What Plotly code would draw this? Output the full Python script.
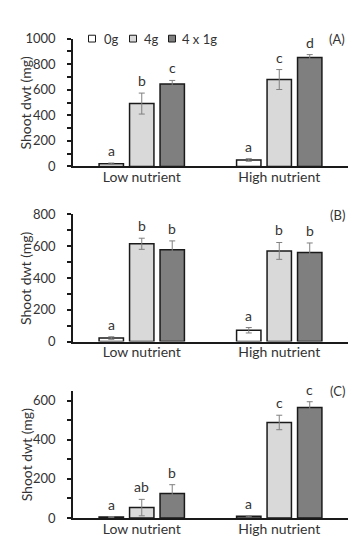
import plotly.graph_objects as go

# ---------------- data ----------------
categories = ["Low nutrient", "High nutrient"]
treatments = ["0g", "4g", "4 x 1g"]

A_means = {"0g": [22, 51], "4g": [492, 680], "4 x 1g": [645, 852]}
A_err = {"0g": [5, 10], "4g": [82, 78], "4 x 1g": [28, 23]}
A_letters = {"0g": ["a", "a"], "4g": ["b", "c"], "4 x 1g": ["c", "d"]}

B_means = {"0g": [22, 71], "4g": [615, 570], "4 x 1g": [578, 560]}
B_err = {"0g": [8, 17], "4g": [35, 53], "4 x 1g": [55, 60]}
B_letters = {"0g": ["a", "a"], "4g": ["b", "b"], "4 x 1g": ["b", "b"]}

C_means = {"0g": [5, 9], "4g": [53, 488], "4 x 1g": [125, 564]}
C_err = {"0g": [2, 3], "4g": [42, 37], "4 x 1g": [45, 30]}
C_letters = {"0g": ["a", "a"], "4g": ["ab", "c"], "4 x 1g": ["b", "c"]}

panel_labels = ["(A)", "(B)", "(C)"]
y_ranges = [[0, 1000], [0, 800], [0, 650]]
y_title = "Shoot dwt (mg)"

colors = {"0g": "#ffffff", "4g": "#d9d9d9", "4 x 1g": "#7f7f7f"}

# ---------------- layout constants ----------------
W, H = 361, 550
x_left, x_right = 65, 340
panel_px = [(23.3, 155.0), (204.3, 335.3), (386.0, 517.0)]  # top, bottom in px
FONT = "Lato"
TXT = "#333333"
BARGAP = 0.335

fig = go.Figure()

panels = [(A_means, A_err, A_letters), (B_means, B_err, B_letters), (C_means, C_err, C_letters)]
annotations = []
shapes = []

cat_w = (x_right - x_left) / len(categories)
slot = cat_w * (1 - BARGAP) / len(treatments)

for p, (means, errs, letters) in enumerate(panels):
    xa = "x" if p == 0 else f"x{p+1}"
    ya = "y" if p == 0 else f"y{p+1}"
    for i, t in enumerate(treatments):
        fig.add_trace(go.Bar(
            x=categories, y=means[t], name=t, xaxis=xa, yaxis=ya,
            marker=dict(color=colors[t], line=dict(color="#1a1a1a", width=1.5)),
            error_y=dict(type="data", array=errs[t], color="#808080", thickness=1, width=3),
            showlegend=False,
        ))
        for j, c in enumerate(categories):
            annotations.append(dict(
                x=c, y=means[t][j] + errs[t][j], xref=xa, yref=ya,
                text=letters[t][j], showarrow=False, yanchor="bottom",
                xshift=(i - 1) * slot, yshift=2,
                font=dict(family=FONT, size=14, color=TXT),
            ))
    top, bot = panel_px[p]
    # panel label
    annotations.append(dict(
        x=339 / W, y=1 - (top + 0.5) / H, xref="paper", yref="paper",
        text=panel_labels[p], showarrow=False, xanchor="right", yanchor="middle",
        font=dict(family=FONT, size=13, color=TXT),
    ))
    # y title
    annotations.append(dict(
        x=18 / W, y=1 - (top + bot) / 2 / H, xref="paper", yref="paper",
        text=y_title, showarrow=False, textangle=-90, xanchor="center", yanchor="middle",
        font=dict(family=FONT, size=14, color=TXT),
    ))

# manual legend
leg_sq = [84, 125, 164]
leg_tx = [94, 134, 172]
leg_y = 23.3
for k, t in enumerate(treatments):
    shapes.append(dict(
        type="rect", xref="paper", yref="paper",
        x0=(leg_sq[k] - 3.5) / W, x1=(leg_sq[k] + 3.5) / W,
        y0=1 - (leg_y + 3.5) / H, y1=1 - (leg_y - 3.5) / H,
        fillcolor=colors[t], line=dict(color="#1a1a1a", width=1),
    ))
    annotations.append(dict(
        x=leg_tx[k] / W, y=1 - leg_y / H, xref="paper", yref="paper",
        text=t, showarrow=False, xanchor="left", yanchor="middle",
        font=dict(family=FONT, size=13, color=TXT),
    ))

layout = dict(
    width=W, height=H, margin=dict(l=0, r=0, t=0, b=0),
    paper_bgcolor="white", plot_bgcolor="white",
    barmode="group", bargap=BARGAP, bargroupgap=0.2,
    annotations=annotations, shapes=shapes,
    font=dict(family=FONT, size=13, color=TXT),
)
for p in range(3):
    top, bot = panel_px[p]
    sfx = "" if p == 0 else str(p + 1)
    layout["xaxis" + sfx] = dict(
        domain=[x_left / W, x_right / W], anchor="y" + sfx,
        showline=True, linecolor="#1a1a1a", linewidth=1.5, ticks="",
        showgrid=False, tickfont=dict(family=FONT, size=14, color=TXT),
        ticklabelstandoff=-3,
    )
    layout["yaxis" + sfx] = dict(
        domain=[1 - bot / H, 1 - top / H], anchor="x" + sfx,
        range=y_ranges[p], dtick=200, showgrid=False, zeroline=False,
        showline=True, linecolor="#1a1a1a", linewidth=1.5,
        ticks="outside", ticklen=4, tickcolor="#1a1a1a", tickwidth=1.5,
        minor=dict(dtick=100, ticks="outside", ticklen=4, tickcolor="#1a1a1a", tickwidth=1.5),
        tickfont=dict(family=FONT, size=13, color=TXT), ticklabelstandoff=9,
    )
fig.update_layout(**layout)

fig.write_html("out.html")
